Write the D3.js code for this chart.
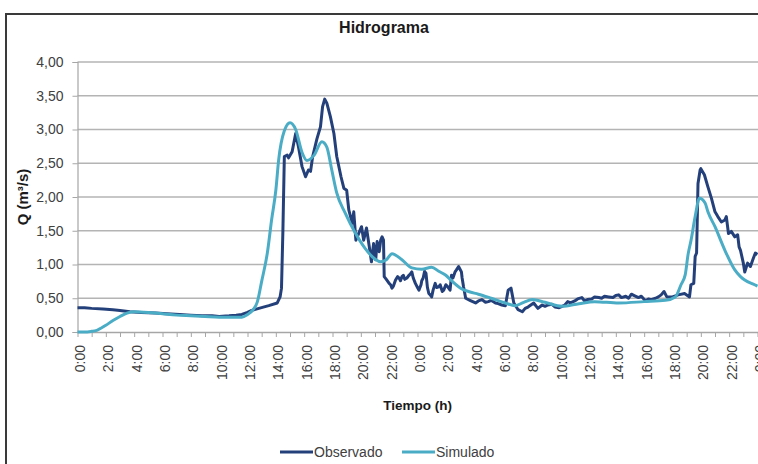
<!DOCTYPE html>
<html><head><meta charset="utf-8">
<script src="https://cdnjs.cloudflare.com/ajax/libs/d3/7.8.5/d3.min.js"></script>
<style>
html,body{margin:0;padding:0;background:#fff;}
svg{display:block;}
</style></head>
<body><svg id="chart" width="758" height="464"></svg>
<script>
const title = "Hidrograma";
const yTitle = "Q (m³/s)";
const xTitle = "Tiempo (h)";
const seriesNames = ["Observado", "Simulado"];
const yTicks = [0, 0.5, 1, 1.5, 2, 2.5, 3, 3.5, 4];
const xTickLabels = ["0:00","2:00","4:00","6:00","8:00","10:00","12:00","14:00","16:00","18:00","20:00","22:00",
  "0:00","2:00","4:00","6:00","8:00","10:00","12:00","14:00","16:00","18:00","20:00","22:00","0:00"];

const obsHours = [0,0.5,1,1.8,2.5,3,3.7,4.5,5.5,6.3,7.2,8,8.8,9.5,10,10.7,11.2,11.6,12,12.3,12.8,13.5,14.1,14.3,14.4,14.5,14.6,14.8,14.9,15.15,15.4,15.6,15.85,16.1,16.3,16.45,16.6,16.9,17.15,17.3,17.45,17.6,17.85,18.1,18.3,18.6,18.8,19,19.15,19.4,19.5,19.65,19.85,20.05,20.2,20.4,20.6,20.75,20.9,21.05,21.15,21.3,21.4,21.5,21.6,21.65,21.8,22,22.1,22.2,22.3,22.45,22.6,22.7,22.8,22.9,23,23.1,23.25,23.4,23.5,23.6,23.7,23.85,24,24.1,24.25,24.3,24.4,24.5,24.6,24.7,24.8,24.9,25,25.1,25.25,25.35,25.5,25.6,25.75,25.85,26,26.1,26.2,26.3,26.4,26.5,26.65,26.75,26.9,27,27.1,27.15,27.25,27.4,27.7,28.1,28.3,28.55,28.8,29,29.2,29.5,29.7,29.95,30.2,30.4,30.6,30.8,31.1,31.4,31.6,31.8,32.2,32.5,32.8,33,33.2,33.5,33.7,34,34.2,34.4,34.6,34.8,35.1,35.3,35.6,35.8,36,36.3,36.5,36.8,37,37.2,37.5,37.8,38,38.2,38.4,38.7,38.9,39.1,39.3,39.6,39.8,40.1,40.3,40.5,40.8,41,41.2,41.4,41.6,42,42.4,42.85,43.2,43.3,43.5,43.6,43.7,43.8,43.95,44,44.25,44.5,44.75,45,45.2,45.45,45.7,45.8,45.95,46.15,46.4,46.6,46.7,46.8,47,47.1,47.3,47.5,47.7,47.85,48];
const obsValues = [0.36,0.36,0.35,0.34,0.33,0.32,0.30,0.29,0.28,0.27,0.26,0.25,0.24,0.24,0.23,0.24,0.25,0.26,0.29,0.32,0.35,0.39,0.43,0.52,0.65,1.51,2.60,2.62,2.58,2.67,2.94,2.74,2.45,2.30,2.40,2.38,2.60,2.86,3.04,3.34,3.45,3.39,3.19,2.94,2.60,2.30,2.13,2.10,1.81,1.61,1.78,1.36,1.46,1.56,1.36,1.54,1.26,1.04,1.31,1.07,1.34,1.19,1.36,1.41,1.36,0.82,0.78,0.72,0.70,0.65,0.68,0.77,0.82,0.80,0.76,0.82,0.84,0.78,0.80,0.84,0.86,0.89,0.80,0.72,0.66,0.62,0.70,0.76,0.80,0.90,0.87,0.66,0.57,0.55,0.52,0.62,0.72,0.66,0.67,0.70,0.60,0.62,0.70,0.68,0.65,0.62,0.84,0.80,0.89,0.92,0.97,0.93,0.89,0.80,0.67,0.50,0.47,0.43,0.46,0.48,0.44,0.45,0.47,0.43,0.42,0.40,0.39,0.62,0.65,0.43,0.33,0.30,0.35,0.37,0.43,0.35,0.40,0.38,0.40,0.41,0.37,0.36,0.38,0.40,0.45,0.43,0.46,0.49,0.51,0.46,0.48,0.49,0.52,0.51,0.50,0.53,0.52,0.51,0.54,0.55,0.51,0.53,0.50,0.56,0.54,0.51,0.53,0.46,0.49,0.48,0.50,0.52,0.55,0.60,0.52,0.52,0.55,0.57,0.52,0.70,0.72,1.12,1.17,2.20,2.40,2.42,2.33,2.15,1.98,1.78,1.71,1.63,1.66,1.71,1.46,1.49,1.41,1.44,1.26,1.21,1.02,0.89,1.02,0.97,1.09,1.17,1.15];

const simHours = [0,0.5,1,1.3,2,2.5,3,3.5,4,5,6,7,8,9,10,11,11.6,12,12.4,12.7,13,13.4,13.7,14,14.2,14.6,15,15.4,15.85,16.2,16.7,17.25,17.6,17.95,18.3,18.9,19.6,20.3,21,21.4,21.8,22.2,22.9,23.6,24.3,25,25.5,26,26.4,27.1,27.6,28.3,29.2,30.2,30.9,31.5,32.1,33,34.2,35.4,36.5,38.2,40,41.5,42.2,42.6,42.9,43.1,43.3,43.6,43.9,44.3,44.5,45,45.7,46.4,46.8,47.1,47.8,48];
const simValues = [0.00,0.00,0.01,0.02,0.10,0.17,0.23,0.28,0.30,0.29,0.27,0.25,0.24,0.23,0.22,0.22,0.22,0.26,0.33,0.45,0.75,1.17,1.66,2.10,2.55,2.98,3.10,3.00,2.66,2.54,2.62,2.82,2.74,2.40,2.06,1.76,1.47,1.24,1.08,1.04,1.07,1.16,1.07,0.95,0.93,0.96,0.90,0.84,0.76,0.64,0.60,0.56,0.50,0.43,0.39,0.44,0.48,0.44,0.38,0.42,0.45,0.43,0.45,0.47,0.52,0.70,0.85,1.15,1.35,1.71,1.98,1.91,1.78,1.56,1.21,0.92,0.82,0.77,0.70,0.68];

const colors = {obs: "#24407a", sim: "#4bacc6", grid: "#b4b4b4", axis: "#a6a6a6", text: "#404040"};
const FONT = "'Liberation Sans', Arial, sans-serif";

const svg = d3.select("#chart");
const pLeft = 77.5, pRight = 757.5, pTop = 62, pBottom = 332;
const x = d3.scaleLinear().domain([0, 48]).range([pLeft, pRight]);
const y = d3.scaleLinear().domain([0, 4]).range([pBottom, pTop]);

// frame
svg.append("rect").attr("x", 6).attr("y", 14).attr("width", 780).attr("height", 480)
  .attr("fill", "none").attr("stroke", "#3a3a3a").attr("stroke-width", 2);

// gridlines
svg.append("g").selectAll("line").data(yTicks.filter(d => d > 0)).join("line")
  .attr("x1", pLeft).attr("x2", 760).attr("y1", d => y(d)).attr("y2", d => y(d))
  .attr("stroke", colors.grid).attr("stroke-width", 1.5);

// y axis
const yAxis = d3.axisLeft(y).tickValues(yTicks).tickSize(5).tickPadding(9)
  .tickFormat(d => d3.format(".2f")(d).replace(".", ","));
const gy = svg.append("g").attr("transform", `translate(${pLeft},0)`).call(yAxis);
gy.select(".domain").attr("stroke", colors.axis).attr("stroke-width", 1.2);
gy.selectAll(".tick line").attr("stroke", colors.axis);
gy.selectAll("text").attr("font-family", FONT).attr("font-size", 14).attr("fill", colors.text);

// x axis
const hourTicks = d3.range(0, 49, 1);
const xAxis = d3.axisBottom(x).tickValues(hourTicks).tickSize(5).tickFormat("");
const gx = svg.append("g").attr("transform", `translate(0,${pBottom})`).call(xAxis);
gx.select(".domain").attr("stroke", colors.axis).attr("stroke-width", 1.5).attr("d", `M${pLeft},0.5H760`);
gx.selectAll(".tick line").attr("stroke", colors.axis);
const labelHours = d3.range(0, 49, 2);
svg.append("g").selectAll("text").data(labelHours).join("text")
  .attr("transform", (d) => `translate(${x(d) + 2.5},${pBottom + 13}) rotate(-90)`)
  .attr("text-anchor", "end").attr("dy", "0.36em")
  .attr("font-family", FONT).attr("font-size", 14).attr("fill", colors.text)
  .text((d, i) => xTickLabels[i]);

// lines
const obsData = obsHours.map((h, i) => [h, obsValues[i]]);
const simData = simHours.map((h, i) => [h, simValues[i]]);
const lineObs = d3.line().x(d => x(d[0])).y(d => y(d[1]));
const lineSim = d3.line().x(d => x(d[0])).y(d => y(d[1])).curve(d3.curveMonotoneX);
svg.append("path").datum(obsData).attr("d", lineObs).attr("fill", "none")
  .attr("stroke", colors.obs).attr("stroke-width", 3).attr("stroke-linejoin", "round");
svg.append("path").datum(simData).attr("d", lineSim).attr("fill", "none")
  .attr("stroke", colors.sim).attr("stroke-width", 3).attr("stroke-linejoin", "round");

// titles
svg.append("text").attr("x", 384).attr("y", 33).attr("text-anchor", "middle")
  .attr("font-family", FONT).attr("font-weight", "bold").attr("font-size", 16).attr("fill", "#1a1a1a")
  .text(title);
svg.append("text").attr("transform", `translate(28,${(pTop + pBottom) / 2}) rotate(-90)`)
  .attr("text-anchor", "middle").attr("font-family", FONT).attr("font-weight", "bold")
  .attr("font-size", 15).attr("fill", "#1a1a1a").text(yTitle);
svg.append("text").attr("x", (pLeft + pRight) / 2).attr("y", 410).attr("text-anchor", "middle")
  .attr("font-family", FONT).attr("font-weight", "bold").attr("font-size", 13.5).attr("fill", "#1a1a1a")
  .text(xTitle);

// legend
const legend = [{name: seriesNames[0], color: colors.obs, x: 280}, {name: seriesNames[1], color: colors.sim, x: 402}];
const lg = svg.append("g").selectAll("g").data(legend).join("g");
lg.append("line").attr("x1", d => d.x).attr("x2", d => d.x + 33).attr("y1", 452).attr("y2", 452)
  .attr("stroke", d => d.color).attr("stroke-width", 3);
lg.append("text").attr("x", d => d.x + 34).attr("y", 457)
  .attr("font-family", FONT).attr("font-size", 14).attr("fill", colors.text).text(d => d.name);
</script>
</body></html>
